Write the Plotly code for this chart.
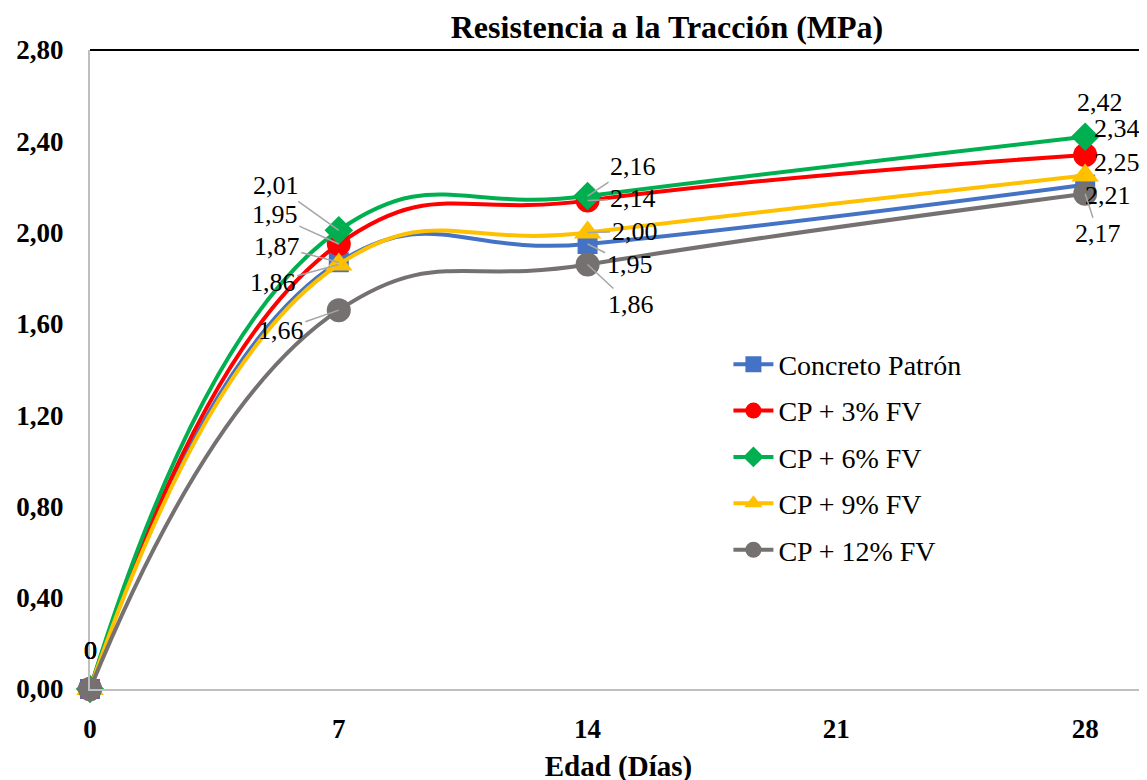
import plotly.graph_objects as go

dias = [0, 7, 14, 28]
series_names = ["Concreto Patrón", "CP + 3% FV", "CP + 6% FV", "CP + 9% FV", "CP + 12% FV"]
patron = [0, 1.87, 1.95, 2.21]
cp3 = [0, 1.95, 2.14, 2.34]
cp6 = [0, 2.01, 2.16, 2.42]
cp9 = [0, 1.86, 2.00, 2.25]
cp12 = [0, 1.66, 1.86, 2.17]
x_ticks = [0, 7, 14, 21, 28]
y_ticks = [0, 0.4, 0.8, 1.2, 1.6, 2.0, 2.4, 2.8]

values = [patron, cp3, cp6, cp9, cp12]
colors = ["#4472C4", "#FF0000", "#00B050", "#FFC000", "#767171"]
symbols = ["square", "circle", "diamond", "triangle-up", "circle"]
msizes = [20, 24, 22, 24, 24]

# label offsets (pixels) per series per point, and whether a leader line is shown
offsets = [
    [(0, -39), (-62, -16), (42, 21), (23, 11)],
    [(0, -39), (-64, -29), (45, -2), (32, -26)],
    [(0, -39), (-63, -45), (45, -30), (15, -34)],
    [(0, -39), (-66, 18), (47, -1), (32, -13)],
    [(0, -39), (-58, 20), (43, 40), (13, 40)],
]
leaders = [
    [False, True, True, False],
    [False, True, True, False],
    [False, True, True, False],
    [False, True, True, False],
    [False, True, True, True],
]

font_family = "Liberation Serif, Times New Roman, serif"

fig = go.Figure()
for name, vals, col, sym, ms in zip(series_names, values, colors, symbols, msizes):
    fig.add_trace(go.Scatter(
        x=dias, y=vals, name=name, mode="lines+markers",
        line=dict(color=col, width=4, shape="spline", smoothing=1.3),
        marker=dict(symbol=sym, size=ms, color=col),
        cliponaxis=False, legendgroup=name,
    ))

annotations = []
for vals, offs, leads in zip(values, offsets, leaders):
    for xv, yv, (ax, ay), ld in zip(dias, vals, offs, leads):
        txt = "0" if yv == 0 else f"{yv:.2f}".replace(".", ",")
        annotations.append(dict(
            x=xv, y=yv, xref="x", yref="y", text=txt,
            showarrow=True, arrowhead=0, arrowwidth=1.5,
            arrowcolor="#A6A6A6" if ld else "rgba(0,0,0,0)",
            ax=ax, ay=ay, font=dict(family=font_family, size=26, color="black"),
        ))

W, H = 1147, 780
fig.update_layout(
    width=W, height=H,
    margin=dict(l=77, r=8, t=42, b=99),
    paper_bgcolor="white", plot_bgcolor="white",
    separators=",.",
    font=dict(family=font_family, color="black"),
    title=dict(text="<b>Resistencia a la Tracción (MPa)</b>", x=659 / W, xanchor="center",
               y=1 - 19 / H, yanchor="middle", font=dict(size=32, family=font_family)),
    xaxis=dict(range=[0, 29.74], tickvals=x_ticks, ticktext=[f"<b>{v}</b>" for v in x_ticks],
               showgrid=False, zeroline=False, showline=True, linecolor="#BFBFBF", linewidth=2,
               ticks="", tickfont=dict(size=27, family=font_family), ticklabelstandoff=15,
               title=dict(text="<b>Edad (Días)</b>", font=dict(size=29, family=font_family), standoff=12)),
    yaxis=dict(range=[0, 2.8], tickvals=y_ticks,
               ticktext=["<b>" + f"{v:.2f}".replace(".", ",") + "</b>" for v in y_ticks],
               showgrid=False, zeroline=False, showline=True, linecolor="#BFBFBF", linewidth=2,
               ticks="", tickfont=dict(size=27, family=font_family), ticklabelstandoff=19),
    legend=dict(x=0.604, y=0.547, xanchor="left", yanchor="top", bgcolor="rgba(0,0,0,0)",
                font=dict(size=28, family=font_family), tracegroupgap=7, itemwidth=40),
    showlegend=True,
    annotations=annotations,
    shapes=[dict(type="line", xref="paper", yref="paper", x0=0, x1=1, y0=1, y1=1,
                 line=dict(color="black", width=2), layer="below")],
)

fig.write_html("out.html")
